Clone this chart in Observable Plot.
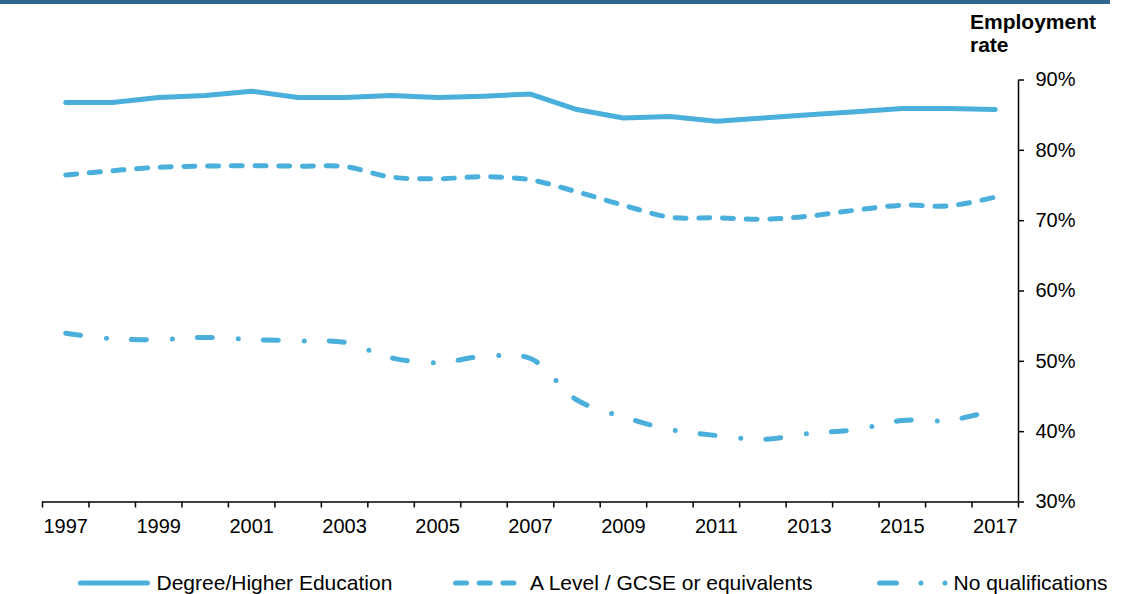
<!DOCTYPE html>
<html><head><meta charset="utf-8">
<script src="https://cdn.jsdelivr.net/npm/d3@7"></script>
<script src="https://cdn.jsdelivr.net/npm/@observablehq/plot@0.6"></script>
<style>
body{margin:0;background:#fff;font-family:Arial,"Liberation Sans",sans-serif;}
#wrap{position:relative;width:1122px;height:594px;overflow:hidden;background:#fff}
#bar{position:absolute;left:0;top:0;width:1110px;height:4px;background:#31668f}
#title{position:absolute;left:970px;top:10px;font-weight:bold;font-size:21px;line-height:23.4px;color:#000}
#legend svg, #chart svg{display:block}
</style></head><body>
<div id="wrap"><div id="chart"></div><div id="legend"></div><div id="bar"></div><div id="title">Employment<br>rate</div></div>
<script>
const years = [1997,1998,1999,2000,2001,2002,2003,2004,2005,2006,2007,2008,2009,2010,2011,2012,2013,2014,2015,2016,2017];
const degree = [86.8,86.8,87.5,87.8,88.4,87.5,87.5,87.8,87.5,87.7,88.0,85.8,84.6,84.8,84.15,84.6,85.05,85.5,85.95,85.95,85.8];
const aLevel = [76.5,77.1,77.6,77.75,77.8,77.75,77.7,76.2,75.95,76.25,75.8,74.1,72.2,70.5,70.4,70.2,70.65,71.5,72.2,72.1,73.35];
const noQual = [54.0,53.2,53.1,53.4,53.1,52.9,52.7,50.5,49.8,50.7,50.4,44.5,42.1,40.3,39.45,38.9,39.75,40.3,41.6,41.6,43.1];
const yTicks = [30,40,50,60,70,80,90];
const xLabelYears = [1997,1999,2001,2003,2005,2007,2009,2011,2013,2015,2017];
const seriesNames = ["Degree/Higher Education","A Level / GCSE or equivalents","No qualifications"];

const color = "#4BAFDB";
const dashA = "11 12.7";
const dashN = "15 26 0 25";
const font = 'Arial, "Liberation Sans", sans-serif';

const rowsFor = vals => years.map((yr,i)=>({year:yr, value:vals[i]}));
const edges = d3.range(years[0]-0.5, years[years.length-1]+1, 1);

const chart = Plot.plot({
  width:1122, height:540,
  marginLeft:42, marginRight:104, marginTop:79.5, marginBottom:38.5,
  style:{fontFamily:font, fontSize:"20px", color:"#000", background:"white", overflow:"visible"},
  x:{domain:[years[0]-0.5, years[years.length-1]+0.5]},
  y:{domain:[30,90]},
  marks:[
    Plot.axisX({ticks:edges, tickSize:6, tickFormat:()=>"", strokeWidth:1.5, label:null}),
    Plot.axisX({ticks:xLabelYears, tickSize:0, tickPadding:17, tickFormat:d=>String(d), fontSize:20, label:null}),
    Plot.axisY({anchor:"right", ticks:yTicks, tickSize:5, tickPadding:12, tickFormat:d=>d+"%", fontSize:20, strokeWidth:1.5, label:null}),
    Plot.ruleY([30],{stroke:"black", strokeWidth:1.5}),
    Plot.ruleX([years[years.length-1]+0.5],{stroke:"black", strokeWidth:1.5}),
    Plot.line(rowsFor(degree),{x:"year", y:"value", stroke:color, strokeWidth:5, strokeLinecap:"round", strokeLinejoin:"round"}),
    Plot.line(rowsFor(aLevel),{x:"year", y:"value", stroke:color, strokeWidth:5, strokeLinecap:"round", strokeLinejoin:"round", strokeDasharray:dashA, curve:"catmull-rom"}),
    Plot.line(rowsFor(noQual),{x:"year", y:"value", stroke:color, strokeWidth:5, strokeLinecap:"round", strokeLinejoin:"round", strokeDasharray:dashN, curve:"catmull-rom"})
  ]
});
document.getElementById("chart").appendChild(chart);

// Legend below the chart
const leg = d3.select("#legend").append("svg").attr("width",1122).attr("height",54)
  .style("font-family", font);
const ly = 43;
const items = [
  {name:seriesNames[0], x1:80.5, x2:147.5, dash:null, tx:156.5},
  {name:seriesNames[1], x1:455.5, x2:514.5, dash:dashA, tx:530},
  {name:seriesNames[2], x1:879.5, x2:946, dash:"17 24.5 0 24 0 100", tx:953.5}
];
items.forEach(it=>{
  leg.append("line").attr("x1",it.x1).attr("x2",it.x2).attr("y1",ly).attr("y2",ly)
    .attr("stroke",color).attr("stroke-width",5).attr("stroke-linecap","round")
    .attr("stroke-dasharray",it.dash);
  leg.append("text").attr("x",it.tx).attr("y",ly).attr("dy","0.35em")
    .attr("font-size",21).attr("fill","#000").text(it.name);
});
</script>
</body></html>
